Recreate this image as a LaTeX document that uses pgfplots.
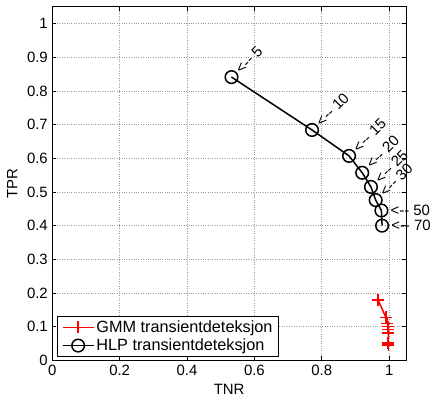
\documentclass[border=0pt]{standalone}
\usepackage{pgfplots}
\pgfplotsset{compat=1.18}
\usepackage{fontspec}
\setmainfont{Liberation Sans}
\newcommand\f{\fontsize{15}{17}\selectfont}
\newcommand\lf{\fontsize{16.3}{18}\selectfont}
\begin{document}
\begin{tikzpicture}[font=\f]
\path[use as bounding box] (-52.3bp,-39.6bp) rectangle (383.7bp,360.4bp);
\begin{axis}[
  scale only axis, width=353.7bp, height=353.7bp,
  xmin=0, xmax=1.05, ymin=0, ymax=1.05,
  xtick={0,0.2,0.4,0.6,0.8,1},
  ytick={0,0.1,0.2,0.3,0.4,0.5,0.6,0.7,0.8,0.9,1},
  /pgf/number format/assume math mode=true,
  tick align=inside, major tick length=4bp,
  tick style={black, line width=0.6bp},
  axis line style={black, line width=0.8bp},
  grid=major, grid style={dotted, gray!80, line width=0.6bp},
  xlabel={TNR}, ylabel={TPR},
  xlabel style={at={(axis description cs:0.5,0)}, anchor=center, yshift=-29bp},
  ylabel style={at={(axis description cs:0,0.5)}, anchor=center, yshift=40bp},
  yticklabel style={xshift=-1bp},
  xticklabel style={yshift=-1bp},
  clip=false,
  legend style={at={(5bp,3.7bp)}, anchor=south west, draw=black, line width=1bp,
    font=\lf, row sep=1bp, inner xsep=4bp, inner ysep=2bp},
  legend cell align=left,
  legend image code/.code={
    \draw[#1, mark repeat=2, mark phase=2] plot coordinates {(0cm,0cm) (0.55cm,0cm) (1.1cm,0cm)};
  },
]
\addplot[red, line width=1.5bp, mark=+, mark size=6bp, mark options={line width=1.5bp}]
  coordinates {(0.967,0.180) (0.990,0.128) (0.995,0.110) (0.997,0.100) (0.998,0.091) (0.998,0.082) (0.997,0.052) (0.998,0.045)};
\addlegendentry{GMM transientdeteksjon}
\addplot[black, line width=1.5bp, mark=o, mark size=6.3bp, mark options={line width=1.5bp}]
  coordinates {(0.532,0.841) (0.771,0.684) (0.881,0.607) (0.920,0.557) (0.946,0.515) (0.960,0.476) (0.977,0.445) (0.979,0.400)};
\addlegendentry{HLP transientdeteksjon}
\begin{scope}[every node/.style={anchor=west, inner sep=0pt, rotate=45, font=\f}]
\node at (axis cs:0.532,0.841) {\hspace{9bp}<-{}- 5};
\node at (axis cs:0.771,0.684) {\hspace{9bp}<-{}- 10};
\node at (axis cs:0.881,0.607) {\hspace{9bp}<-{}- 15};
\node at (axis cs:0.920,0.557) {\hspace{9bp}<-{}- 20};
\node at (axis cs:0.946,0.515) {\hspace{9bp}<-{}- 25};
\node at (axis cs:0.960,0.476) {\hspace{9bp}<-{}- 30};
\end{scope}
\node[anchor=west, inner sep=0pt] at (axis cs:0.977,0.445) {\hspace{9bp}<-{}- 50};
\node[anchor=west, inner sep=0pt] at (axis cs:0.979,0.400) {\hspace{9bp}<-{}- 70};
\end{axis}
\end{tikzpicture}
\end{document}
